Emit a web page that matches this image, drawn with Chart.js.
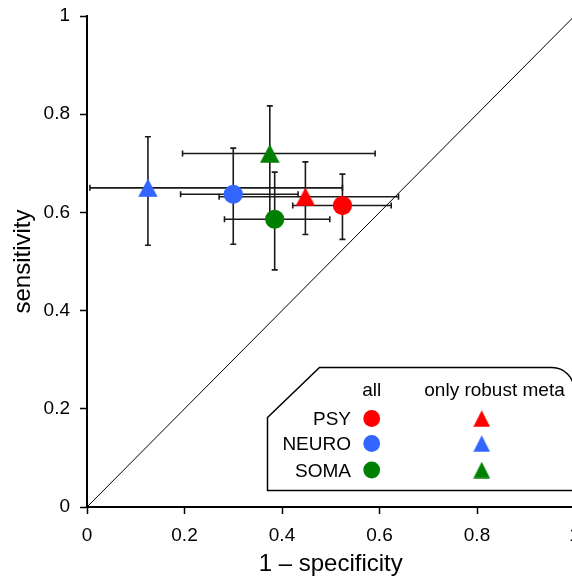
<!DOCTYPE html>
<html><head><meta charset="utf-8">
<script src="https://cdn.jsdelivr.net/npm/chart.js@4/dist/chart.umd.min.js"></script>
<style>
html,body{margin:0;padding:0;background:#fff;overflow:hidden;width:572px;height:578px}
#wrap{width:600px;height:578px;position:relative}
</style></head>
<body><div id="wrap"><canvas id="c" width="600" height="578"></canvas></div>
<script>
// ---- data ----
const groups = ['PSY', 'NEURO', 'SOMA'];
const groupColors = ['#ff0000', '#3366ff', '#008000'];
// "all" (circles)
const allX    = [0.524, 0.300, 0.385];
const allY    = [0.614, 0.637, 0.586];
const allXLo  = [0.422, 0.192, 0.282];
const allXHi  = [0.624, 0.433, 0.498];
const allYLo  = [0.545, 0.535, 0.483];
const allYHi  = [0.678, 0.731, 0.682];
// "only robust meta" (triangles)
const robX    = [0.448, 0.125, 0.375];
const robY    = [0.632, 0.650, 0.720];
const robXLo  = [0.271, 0.006, 0.196];
const robXHi  = [0.639, 0.524, 0.591];
const robYLo  = [0.555, 0.533, 0.580];
const robYHi  = [0.703, 0.754, 0.817];
// diagonal reference line
const diagX = [0, 1];
const diagY = [0, 1];
const tickValues = [0, 0.2, 0.4, 0.6, 0.8, 1];
const xTitle = '1 \u2013 specificity';
const yTitle = 'sensitivity';
const legendColTitles = ['all', 'only robust meta'];

const FONT = "'Liberation Sans', Arial, sans-serif";

function triangleImage(color, w, h) {
  const cv = document.createElement('canvas');
  cv.width = w; cv.height = h;
  const g = cv.getContext('2d');
  g.fillStyle = color;
  g.beginPath();
  g.moveTo(w / 2, 0.2);
  g.lineTo(w - 0.2, h - 0.2);
  g.lineTo(0.2, h - 0.2);
  g.closePath();
  g.fill();
  return cv;
}
const triImgs = groupColors.map(c => triangleImage(c, 20, 19));
const triLegendImgs = groupColors.map(c => triangleImage(c, 17, 17));

const datasets = [];
datasets.push({
  type: 'line',
  label: 'diagonal',
  data: diagX.map((v, i) => ({x: v, y: diagY[i]})),
  borderColor: '#000', borderWidth: 1, pointRadius: 0, fill: false, order: 10
});
groups.forEach((g, i) => {
  datasets.push({
    label: g + ' all',
    data: [{x: allX[i], y: allY[i]}],
    pointStyle: 'circle', pointRadius: 9.6, pointBorderWidth: 0,
    backgroundColor: groupColors[i], borderColor: groupColors[i], order: 1
  });
  datasets.push({
    label: g + ' only robust meta',
    data: [{x: robX[i], y: robY[i]}],
    pointStyle: triImgs[i], pointRadius: 10,
    backgroundColor: groupColors[i], borderColor: groupColors[i], order: 1
  });
});

const errorBars = {
  id: 'errorBars',
  beforeDatasetsDraw(chart) {
    const {ctx, scales: {x, y}} = chart;
    ctx.save();
    ctx.strokeStyle = '#1a1a1a';
    ctx.lineWidth = 1.6;
    const cap = 3;
    function draw(cx, cy, xl, xh, yl, yh) {
      const px = x.getPixelForValue(cx), py = y.getPixelForValue(cy);
      const pxl = x.getPixelForValue(xl), pxh = x.getPixelForValue(xh);
      const pyl = y.getPixelForValue(yl), pyh = y.getPixelForValue(yh);
      ctx.beginPath();
      ctx.moveTo(pxl, py); ctx.lineTo(pxh, py);
      ctx.moveTo(pxl, py - cap); ctx.lineTo(pxl, py + cap);
      ctx.moveTo(pxh, py - cap); ctx.lineTo(pxh, py + cap);
      ctx.moveTo(px, pyl); ctx.lineTo(px, pyh);
      ctx.moveTo(px - cap, pyl); ctx.lineTo(px + cap, pyl);
      ctx.moveTo(px - cap, pyh); ctx.lineTo(px + cap, pyh);
      ctx.stroke();
    }
    groups.forEach((g, i) => {
      draw(robX[i], robY[i], robXLo[i], robXHi[i], robYLo[i], robYHi[i]);
      draw(allX[i], allY[i], allXLo[i], allXHi[i], allYLo[i], allYHi[i]);
    });
    ctx.restore();
  }
};

const legendBox = {
  id: 'legendBox',
  afterDraw(chart) {
    const ctx = chart.ctx;
    ctx.save();
    // box with chamfered top-left and rounded top-right corner
    const L = 267.5, T = 367.5, B = 490.5, R = 574, ch = 50, rad = 22;
    ctx.beginPath();
    ctx.moveTo(L, T + ch);
    ctx.lineTo(L + 52, T);
    ctx.lineTo(R - rad, T);
    ctx.arcTo(R, T, R, T + rad, rad);
    ctx.lineTo(R, B);
    ctx.lineTo(L, B);
    ctx.closePath();
    ctx.fillStyle = '#fff';
    ctx.fill();
    ctx.strokeStyle = '#000';
    ctx.lineWidth = 1.5;
    ctx.stroke();

    ctx.fillStyle = '#000';
    ctx.font = '19px ' + FONT;
    ctx.textBaseline = 'alphabetic';
    ctx.textAlign = 'center';
    ctx.fillText(legendColTitles[0], 371.7, 395.5);
    ctx.fillText(legendColTitles[1], 494.5, 395.5);
    const rowsY = [418.5, 443.5, 470];
    ctx.textAlign = 'right';
    groups.forEach((g, i) => {
      ctx.fillStyle = '#000';
      ctx.fillText(g, 351, rowsY[i] + 6.8);
      ctx.fillStyle = groupColors[i];
      ctx.beginPath();
      ctx.arc(371.7, rowsY[i], 8.4, 0, Math.PI * 2);
      ctx.fill();
      const im = triLegendImgs[i];
      ctx.drawImage(im, 481.7 - im.width / 2, rowsY[i] - im.height / 2);
    });
    ctx.restore();
  }
};

const fmtTick = v => String(Math.round(v * 10) / 10);

new Chart(document.getElementById('c'), {
  type: 'scatter',
  data: {datasets},
  options: {
    responsive: false,
    animation: false,
    devicePixelRatio: 1,
    layout: {padding: {left: 0, top: 16, right: 25.5, bottom: 0}},
    plugins: {legend: {display: false}, tooltip: {enabled: false}},
    scales: {
      x: {
        type: 'linear', min: 0, max: 1,
        afterFit(s) { s.height = 71; s.paddingLeft = 0; s.paddingRight = 0; },
        afterBuildTicks(s) { s.ticks = tickValues.map(v => ({value: v})); },
        ticks: {color: '#000', font: {family: FONT, size: 19}, padding: 10, maxRotation: 0, autoSkip: false, callback: fmtTick},
        grid: {drawOnChartArea: false, drawTicks: true, tickLength: 7, tickColor: '#000', tickWidth: 1.5},
        border: {display: true, color: '#000', width: 2},
        title: {display: true, text: xTitle, color: '#000', font: {family: FONT, size: 24}, padding: {top: 0, bottom: -1}}
      },
      y: {
        type: 'linear', min: 0, max: 1,
        afterFit(s) { s.width = 87; s.paddingTop = 0; s.paddingBottom = 0; },
        afterBuildTicks(s) { s.ticks = tickValues.map(v => ({value: v})); },
        ticks: {color: '#000', font: {family: FONT, size: 19}, padding: 10, autoSkip: false, callback: fmtTick},
        grid: {drawOnChartArea: false, drawTicks: true, tickLength: 7, tickColor: '#000', tickWidth: 1.5},
        border: {display: true, color: '#000', width: 2},
        title: {display: true, text: yTitle, color: '#000', font: {family: FONT, size: 24}, padding: {top: 9, bottom: 0}}
      }
    }
  },
  plugins: [errorBars, legendBox]
});
</script>
</body></html>
